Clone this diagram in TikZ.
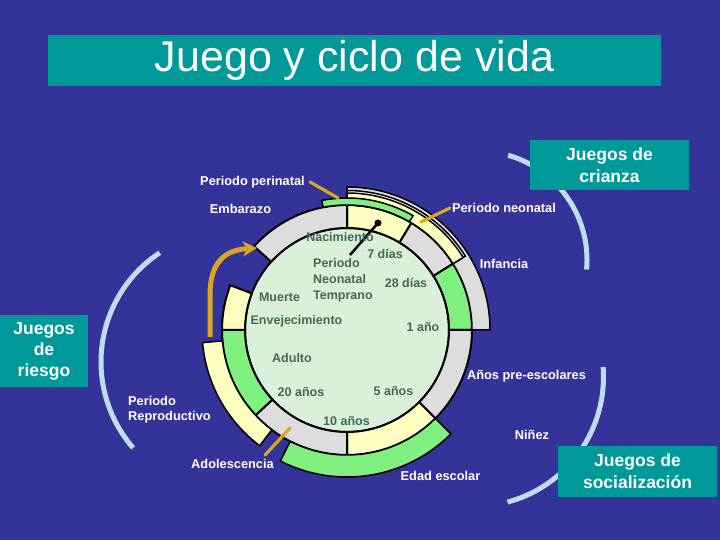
\documentclass[tikz,border=0pt]{standalone}
\usepackage{fontspec}
\setmainfont{Liberation Sans}
\usetikzlibrary{arrows.meta,positioning}

\definecolor{slideBlue}{RGB}{51,51,153}
\definecolor{boxTeal}{RGB}{0,153,153}
\definecolor{ringGray}{RGB}{221,221,221}
\definecolor{ringYellow}{RGB}{255,255,192}
\definecolor{ringGreen}{RGB}{128,240,128}
\definecolor{coreGreen}{RGB}{218,240,218}
\definecolor{coreText}{RGB}{66,106,82}
\definecolor{arrowGold}{RGB}{218,165,32}
\definecolor{bracketBlue}{RGB}{190,222,238}

\begin{document}
\begin{tikzpicture}[x=1pt, y=1pt]
  \tikzstyle{ringSeg} = [draw=black, line width=2pt];
  \tikzstyle{lifeText} = [text=white, inner sep=1pt, font={\fontsize{12.8}{15}\selectfont\bfseries}];
  \tikzstyle{coreLabel} = [text=coreText, inner sep=1pt, font={\fontsize{12.5}{16}\selectfont\bfseries}];
  \tikzstyle{gameBox} = [fill=boxTeal, text=white, align=center, font={\fontsize{17.5}{22}\selectfont\bfseries}];
  \tikzstyle{goldLine} = [draw=arrowGold, line width=3.2pt, line cap=round];
  \tikzstyle{goldArrow} = [draw=arrowGold, line width=5pt, -{Stealth[length=14pt,width=15pt,inset=4pt]}];
  \tikzstyle{bracketArc} = [draw=bracketBlue, line width=5pt];

  \useasboundingbox (0,0) rectangle (720,540);
  \fill[slideBlue] (0,0) rectangle (720,540);

  \node[fill=boxTeal, minimum width=613pt, minimum height=51pt, text=white, font={\fontsize{43}{48}\selectfont}] (title) at (354.5,479.5) {Juego y ciclo de vida};

  % brackets for the games
  \draw[bracketArc] (232,178) ++(123.5:131pt) arc[start angle=123.5, end angle=221, radius=131pt];
  \draw[bracketArc] (478,280) ++(74:109pt) arc[start angle=74, end angle=-5, radius=109pt];
  \draw[bracketArc] (474,163) ++(4.4:129.5pt) arc[start angle=4.4, end angle=-75, radius=129.5pt];

  % life cycle wheel
  \begin{scope}[shift={(347,210)}]
    \filldraw[fill=coreGreen, line width=2pt] (0,0) circle[radius=102pt];
    \foreach \a/\b/\c in {59/90/ringYellow, 32/59/ringGray, 0/32/ringGreen, -45/0/ringGray, -90/-45/ringYellow, -137/-90/ringGray, -180/-137/ringGreen, 159/180/ringYellow, 90/138/ringGray}
      \filldraw[ringSeg, fill=\c] (\a:102pt) -- (\a:125pt) arc[start angle=\a, end angle=\b, radius=125pt] -- (\b:102pt) arc[start angle=\b, end angle=\a, radius=102pt] -- cycle;
    \foreach \a/\b/\r/\c in {0/90/143/ringGray, 32/90/139.5/white, 32/90/137/ringYellow, 60/101/132/ringGreen, 185/233/145/ringYellow, 243/315/147/ringGreen}
      \filldraw[ringSeg, line width=1.5pt, fill=\c] (\a:125pt) -- (\a:\r pt) arc[start angle=\a, end angle=\b, radius=\r pt] -- (\b:125pt) arc[start angle=\b, end angle=\a, radius=125pt] -- cycle;
  \end{scope}

  \coordinate (needleBase) at (350,285);
  \coordinate (birthDot) at (378,317);
  \draw[line width=2.5pt] (needleBase) -- (birthDot);
  \fill (birthDot) circle[radius=3.5pt];

  \node[coreLabel] (birth) at (340,303) {Nacimiento};
  \node[coreLabel] (day7) at (385,286) {7 días};
  \node[coreLabel, align=left, anchor=west] (early) at (312,260) {Periodo\\Neonatal\\Temprano};
  \node[coreLabel] (day28) at (406,257) {28 días};
  \node[coreLabel] (death) at (279.5,243) {Muerte};
  \node[coreLabel] (ageing) at (296.5,219) {Envejecimiento};
  \node[coreLabel] (year1) at (423,213) {1 año};
  \node[coreLabel] (adult) at (292,182) {Adulto};
  \node[coreLabel] (year20) at (301,148) {20 años};
  \node[coreLabel] (year5) at (393.5,149) {5 años};
  \node[coreLabel] (year10) at (346.5,119) {10 años};

  \node[lifeText] (perinatal) at (252.5,358) {Periodo perinatal};
  \node[lifeText] (pregnancy) at (240.5,331) {Embarazo};
  \node[lifeText] (neonatal) at (504,332) {Periodo neonatal};
  \node[lifeText] (infancy) at (504,276) {Infancia};
  \node[lifeText] (preschool) at (526.5,164) {Años pre-escolares};
  \node[lifeText] (childhood) at (532,105) {Niñez};
  \node[lifeText] (school) at (440.5,64) {Edad escolar};
  \node[lifeText] (adolescence) at (232.5,76) {Adolescencia};
  \node[lifeText, align=left, anchor=west] (reproductive) at (127,130.5) {Periodo\\Reproductivo};

  \coordinate (perinatalTip) at (338,342);
  \coordinate (neonatalTip) at (421,318);
  \coordinate (adolescenceTip) at (290,112);
  \coordinate (reproStart) at (210,203);
  \coordinate (wombTip) at (257,292);
  \draw[goldLine] ([xshift=4pt]perinatal.east) -- (perinatalTip);
  \draw[goldLine] ([xshift=-1pt]neonatal.west) -- (neonatalTip);
  \draw[goldLine] ([xshift=-10pt,yshift=3pt]adolescence.north east) -- (adolescenceTip);
  \draw[goldArrow] (reproStart) -- (210,245) .. controls (210,278) and (225,290) .. (wombTip);

  \node[gameBox, minimum width=159pt, minimum height=50pt] (crianza) at (609.5,375) {Juegos de\\crianza};
  \node[gameBox, minimum width=159pt, minimum height=51pt] (socializacion) at (637.5,68.5) {Juegos de\\socialización};
  \node[gameBox, minimum width=88pt, minimum height=72pt, font={\fontsize{17.5}{21}\selectfont\bfseries}] (riesgo) at (44,189) {Juegos\\de\\riesgo};
\end{tikzpicture}
\end{document}
